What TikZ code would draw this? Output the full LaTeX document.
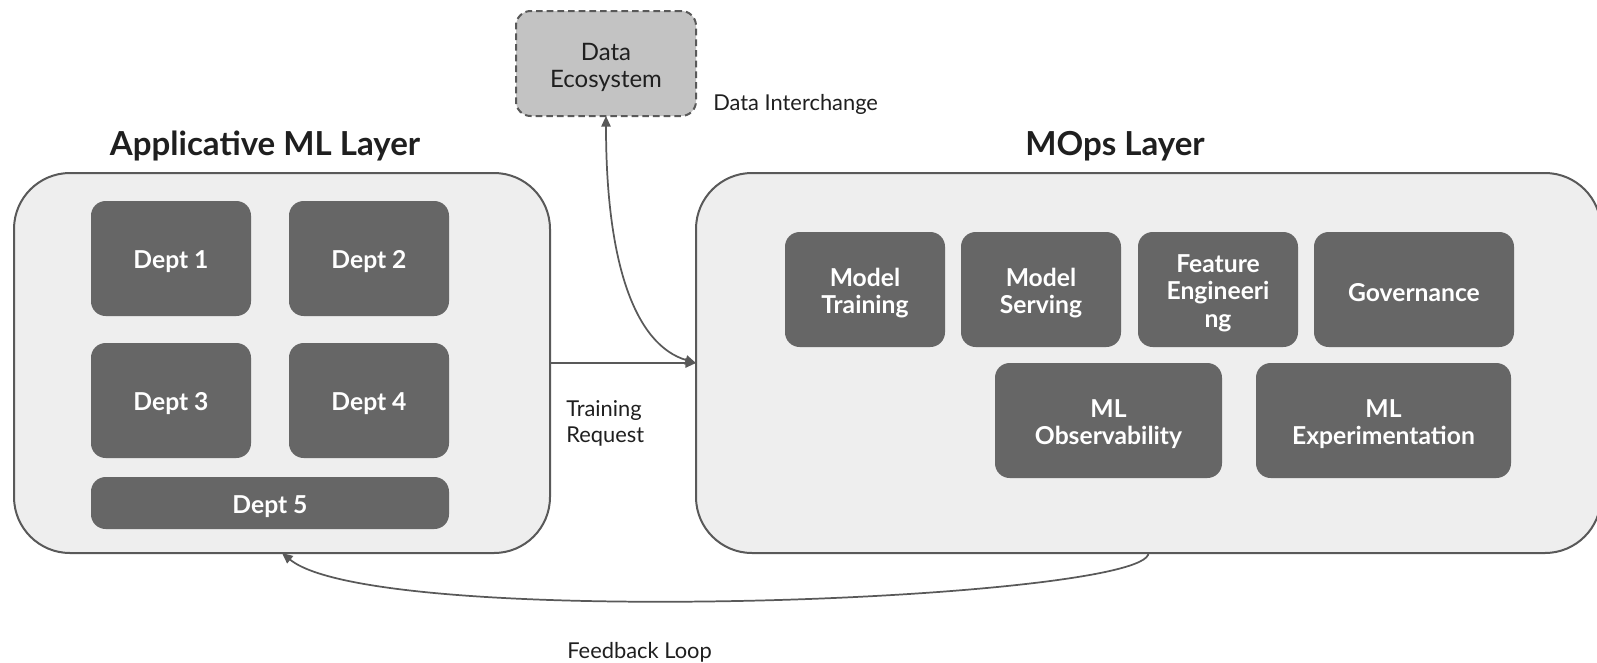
\documentclass[tikz,border=0pt]{standalone}
\usepackage{fontspec}
\setmainfont{Lato}
\usetikzlibrary{arrows.meta}
\definecolor{edgegrey}{HTML}{595959}
\definecolor{panelfill}{HTML}{EEEEEE}
\definecolor{unitfill}{HTML}{666666}
\definecolor{ecofill}{HTML}{C3C3C3}
\definecolor{inkdark}{HTML}{1F1F1F}
\begin{document}
\begin{tikzpicture}[x=0.75pt,y=-0.75pt,
  panel/.style={draw=edgegrey, line width=1.5pt, fill=panelfill,
    rounded corners=42pt, inner sep=0pt, outer sep=0pt},
  unit/.style={fill=unitfill, rounded corners=11pt, inner sep=0pt, outer sep=0pt,
    minimum height=86.25pt},
  unittext/.style={text=white, align=center, inner sep=0pt, yshift=-2.6pt,
    font=\bfseries\fontsize{18.5}{20.6}\selectfont},
  eco/.style={draw=edgegrey, line width=1.5pt, fill=ecofill,
    dash pattern=on 5pt off 3pt, rounded corners=11pt, inner sep=0pt,
    outer sep=0pt},
  ecotext/.style={align=center, text=inkdark, inner sep=0pt, yshift=-2.8pt,
    font=\fontsize{18}{20.6}\selectfont},
  layertitle/.style={text=inkdark, font=\bfseries\fontsize{24.8}{30}\selectfont},
  note/.style={text=inkdark, align=left, inner sep=0pt,
    font=\fontsize{16.4}{20}\selectfont},
  link/.style={draw=edgegrey, line width=1.3pt,
    -{Triangle[length=8pt,width=7pt]}},
  twoway/.style={draw=edgegrey, line width=1.3pt,
    {Triangle[length=8pt,width=7pt]}-{Triangle[length=8pt,width=7pt]}}]

\useasboundingbox (0,0) rectangle (1597,662);
\clip (0,0) rectangle (1597,662);

% layer panels
\node[panel, minimum width=402pt, minimum height=285pt] (app) at (282,363) {};
\node[panel, minimum width=678.75pt, minimum height=285pt] (mops) at (1148.5,363) {};

% layer titles
\node[layertitle] (apptitle) at (265,146) {Applicative ML Layer};
\node[layertitle] (mopstitle) at (1115,146) {MOps Layer};

% departments
\node[unit, minimum width=120pt, label={[unittext]center:Dept 1}] (d1) at (171,258.5) {};
\node[unit, minimum width=120pt, label={[unittext]center:Dept 2}] (d2) at (369,258.5) {};
\node[unit, minimum width=120pt, label={[unittext]center:Dept 3}] (d3) at (171,400.5) {};
\node[unit, minimum width=120pt, label={[unittext]center:Dept 4}] (d4) at (369,400.5) {};
\node[unit, minimum width=268.5pt, minimum height=39pt,
  label={[unittext]center:Dept 5}] (d5) at (270,503) {};

% MOps components
\node[unit, minimum width=120pt, label={[unittext]center:{Model\\Training}}] (train) at (865,289.5) {};
\node[unit, minimum width=120pt, label={[unittext]center:{Model\\Serving}}] (serve) at (1041,289.5) {};
\node[unit, minimum width=120pt, label={[unittext]center:{Feature\\Engineeri\\ng}}] (feat) at (1218,289.5) {};
\node[unit, minimum width=150pt, label={[unittext]center:Governance}] (gov) at (1414,289.5) {};
\node[unit, minimum width=170.25pt, label={[unittext]center:{ML\\Observability}}] (obs) at (1108.5,420.5) {};
\node[unit, minimum width=191.25pt, label={[unittext]center:{ML\\Experimentation}}] (exp) at (1383.5,420.5) {};

% data ecosystem
\node[eco, minimum width=135pt, minimum height=78.75pt,
  label={[ecotext]center:{Data\\Ecosystem}}] (dataeco) at (606,63.5) {};

% connectors
\draw[link] (app.east) -- (mops.west);
\draw[twoway] (dataeco.south) .. controls +(0,150) and +(-60,-18) .. (mops.west);
\draw[link] (mops.south) .. controls +(0,47) and +(95,78) .. (app.south);

% connector labels
\node[note, anchor=west] (lblinter) at (713,104) {Data Interchange};
\node[note, anchor=west] (lbltrain) at (566,423.5) {Training\\Request};
\node[note, anchor=west] (lblfeed) at (567,652) {Feedback Loop};
\end{tikzpicture}
\end{document}
